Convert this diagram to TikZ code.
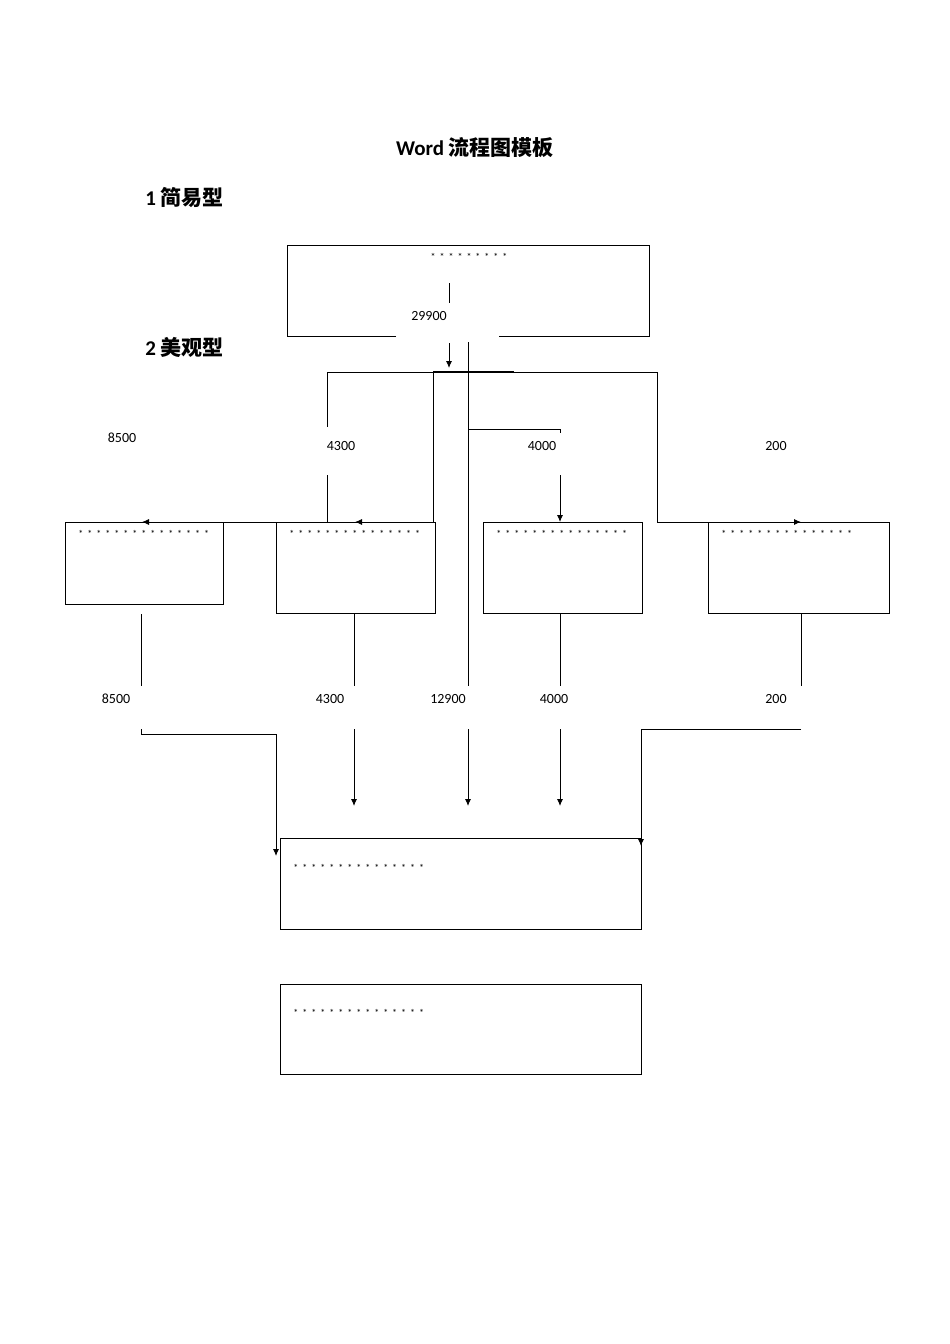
\documentclass[tikz,border=0pt]{standalone}
\usetikzlibrary{arrows.meta}
\usepackage{fontspec}
\setmainfont{Carlito}
\newfontfamily\cjk{Noto Sans CJK SC}
\newfontfamily\starfont[LetterSpace=40]{Carlito}
\begin{document}
\begin{tikzpicture}[x=1pt,y=-1pt,line width=0.9pt,
  arr/.style={-{Latex[length=7pt,width=6pt]},line width=0.9pt},
  num/.style={font=\fontsize{14}{16}\selectfont,inner sep=0},
  stars/.style={font=\starfont\fontsize{10}{12}\selectfont,inner sep=0,anchor=west},
  hd/.style={font=\bfseries\fontsize{21}{24}\selectfont,inner sep=0}]
\useasboundingbox[fill=white] (0,0) rectangle (950,1344);
\node[hd] (title) at (475,148) {Word {\cjk\bfseries 流程图模板}};
\node[hd,anchor=west] (h1) at (145,198) {1 {\cjk\bfseries 简易型}};
\node[hd,anchor=west] (h2) at (145,347) {2 {\cjk\bfseries 美观型}};
% top box
\draw (396,336) -- (287,336) -- (287,245) -- (649,245) -- (649,336) -- (499,336);
\node[stars,anchor=center] (s0) at (469,257) {*********};
\draw (449,283) -- (449,303);
\node[num] (n0) at (429,316) {29900};
\draw[arr] (449,343) -- (449,368);
\draw (468,342) -- (468,686);
\draw (327,372) -- (657,372);
\draw[line width=1.4pt] (433,372) -- (514,372);
\draw (327,372) -- (327,427);
\draw (327,475) -- (327,522);
\draw (433,372) -- (433,522);
\draw (468,429) -- (560,429) -- (560,433);
\draw[arr] (560,475) -- (560,522);
\draw (657,372) -- (657,522) -- (889,522);
\draw[arr] (657,522) -- (801,522);
\draw[arr] (433,522) -- (355,522);
\draw[arr] (327,522) -- (142,522);
\draw (142,522) -- (65,522);
\node[num] (a1) at (122,438) {8500};
\node[num] (a2) at (341,446) {4300};
\node[num] (a3) at (542,446) {4000};
\node[num] (a4) at (776,446) {200};
% boxes
\draw (65,522) rectangle (223,604);
\draw (276,522) rectangle (435,613);
\draw (483,522) rectangle (642,613);
\draw (708,522) rectangle (889,613);
\node[stars] (s1) at (78,534) {***************};
\node[stars] (s2) at (289,534) {***************};
\node[stars] (s3) at (496,534) {***************};
\node[stars] (s4) at (721,534) {***************};
\draw (141,614) -- (141,686);
\draw (354,613) -- (354,686);
\draw (560,613) -- (560,686);
\draw (801,613) -- (801,686);
\node[num] (b1) at (116,699) {8500};
\node[num] (b2) at (330,699) {4300};
\node[num] (b3) at (448,699) {12900};
\node[num] (b4) at (554,699) {4000};
\node[num] (b5) at (776,699) {200};
\draw[arr] (141,729) -- (141,734) -- (276,734) -- (276,856);
\draw[arr] (354,729) -- (354,806);
\draw[arr] (468,729) -- (468,806);
\draw[arr] (560,729) -- (560,806);
\draw[arr] (801,729) -- (641,729) -- (641,846);
\draw (280,838) rectangle (641,929);
\node[stars] (s5) at (293,868) {***************};
\draw (280,984) rectangle (641,1074);
\node[stars] (s6) at (293,1013) {***************};
\end{tikzpicture}
\end{document}
